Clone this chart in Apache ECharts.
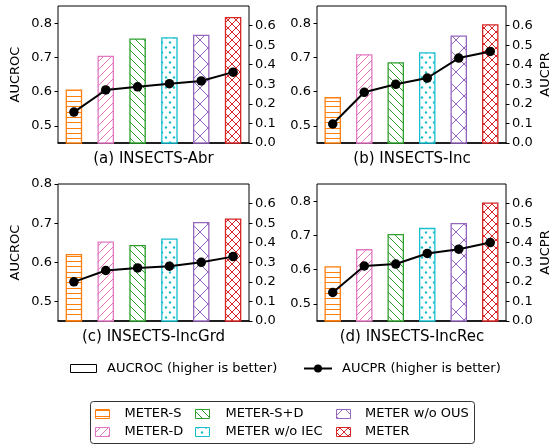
<!DOCTYPE html>
<html><head><meta charset="utf-8">
<script src="https://cdn.jsdelivr.net/npm/echarts@6/dist/echarts.min.js"></script>
<style>html,body{margin:0;padding:0;background:#fff}#c{width:553px;height:446px}</style>
</head><body><div id="c"></div>
<script>
// ---- data ----
const methods = ['METER-S', 'METER-D', 'METER-S+D', 'METER w/o IEC', 'METER w/o OUS', 'METER'];
const panelTitles = ['(a) INSECTS-Abr', '(b) INSECTS-Inc', '(c) INSECTS-IncGrd', '(d) INSECTS-IncRec'];
const aucrocAbr    = [0.606, 0.705, 0.755, 0.759, 0.766, 0.818];
const aucprAbr     = [0.158, 0.271, 0.287, 0.303, 0.317, 0.362];
const aucrocInc    = [0.584, 0.709, 0.686, 0.715, 0.764, 0.797];
const aucprInc     = [0.097, 0.259, 0.300, 0.332, 0.434, 0.468];
const aucrocIncGrd = [0.621, 0.653, 0.644, 0.661, 0.703, 0.712];
const aucprIncGrd  = [0.200, 0.258, 0.271, 0.280, 0.300, 0.329];
const aucrocIncRec = [0.610, 0.660, 0.704, 0.722, 0.736, 0.796];
const aucprIncRec  = [0.146, 0.281, 0.291, 0.345, 0.367, 0.401];
const leftTicks  = [0.5, 0.6, 0.7, 0.8];
const rightTicks = [0.0, 0.1, 0.2, 0.3, 0.4, 0.5, 0.6];
const legendMetrics = ['AUCROC (higher is better)', 'AUCPR (higher is better)'];

const aucroc = [aucrocAbr, aucrocInc, aucrocIncGrd, aucrocIncRec];
const aucpr  = [aucprAbr, aucprInc, aucprIncGrd, aucprIncRec];

// ---- styles ----
const colors = ['#ff7f0e', '#e377c2', '#2ca02c', '#17becf', '#9467bd', '#d62728'];
const hatchKinds = ['h', 'ne', 'se', 'dot', 'x', 'xx'];
const FONT = '"DejaVu Sans", sans-serif';

function makeHatch(kind, color) {
  const c = document.createElement('canvas');
  let w = 8, h = 8;
  if (kind === 'h') { w = 16; h = 16; }
  if (kind === 'x') { w = 16; h = 16; }
  if (kind === 'dot') { w = 8; h = 10; }
  c.width = w; c.height = h;
  const ctx = c.getContext('2d');
  ctx.fillStyle = '#fff'; ctx.fillRect(0, 0, w, h);
  ctx.strokeStyle = color; ctx.fillStyle = color; ctx.lineWidth = 1;
  const seg = (x1, y1, x2, y2) => { ctx.beginPath(); ctx.moveTo(x1, y1); ctx.lineTo(x2, y2); ctx.stroke(); };
  const ne = (p) => { seg(-1, p + 1, p + 1, -1); seg(-1, 1, 1, -1); seg(p - 1, p + 1, p + 1, p - 1); };
  const se = (p) => { seg(-1, -1, p + 1, p + 1); seg(p - 1, -1, p + 1, 1); seg(-1, p - 1, 1, p + 1); };
  if (kind === 'h') { seg(0, 0.5, w, 0.5); seg(0, 5.5, w, 5.5); seg(0, 10.5, w, 10.5); }
  else if (kind === 'ne') ne(8);
  else if (kind === 'se') se(8);
  else if (kind === 'x') { ne(16); se(16); }
  else if (kind === 'xx') { ne(8); se(8); }
  else if (kind === 'dot') {
    ctx.beginPath(); ctx.arc(2, 2.5, 1.2, 0, Math.PI * 2); ctx.fill();
    ctx.beginPath(); ctx.arc(6, 7.5, 1.2, 0, Math.PI * 2); ctx.fill();
  }
  return { image: c, repeat: 'repeat' };
}
const patterns = hatchKinds.map((k, i) => makeHatch(k, colors[i]));

const grids = [
  { left: 58, top: 6, width: 191, height: 137 },
  { left: 317, top: 6, width: 190, height: 137 },
  { left: 58, top: 184, width: 191, height: 137 },
  { left: 317, top: 184, width: 190, height: 137 }
];
const leftMax = [0.85, 0.85, 0.8, 0.85];

const option = {
  animation: false,
  backgroundColor: '#fff',
  grid: grids.map(g => Object.assign({ show: true, borderColor: '#000', borderWidth: 1, backgroundColor: 'transparent' }, g)),
  xAxis: grids.map((g, i) => ({
    type: 'category', gridIndex: i, data: methods, boundaryGap: true,
    axisLine: { show: true, lineStyle: { color: '#000', width: 1.5 } },
    axisTick: { show: false }, axisLabel: { show: false }, splitLine: { show: false }
  })),
  yAxis: [],
  series: [],
  graphic: []
};

grids.forEach((g, i) => {
  option.yAxis.push({
    type: 'value', gridIndex: i, position: 'left', min: 0.45, max: leftMax[i],
    axisLine: { show: false }, splitLine: { show: false },
    axisTick: { show: true, length: 3.5, inside: false, lineStyle: { color: '#000', width: 1 }, customValues: leftTicks },
    axisLabel: { customValues: leftTicks, formatter: v => v.toFixed(1), fontSize: 13, color: '#000', fontFamily: FONT, margin: 6 },
    name: (i % 2 === 0) ? 'AUCROC' : '', nameLocation: 'middle', nameRotate: 90, nameGap: 36,
    nameTextStyle: { fontSize: 13, color: '#000', fontFamily: FONT }
  });
  option.yAxis.push({
    type: 'value', gridIndex: i, position: 'right', min: 0, max: 0.7,
    axisLine: { show: false }, splitLine: { show: false },
    axisTick: { show: true, length: 3.5, inside: false, lineStyle: { color: '#000', width: 1 }, customValues: rightTicks },
    axisLabel: { customValues: rightTicks, formatter: v => v.toFixed(1), fontSize: 13, color: '#000', fontFamily: FONT, margin: 6 },
    name: (i % 2 === 1) ? 'AUCPR' : '', nameLocation: 'middle', nameRotate: 90, nameGap: 33,
    nameTextStyle: { fontSize: 13, color: '#000', fontFamily: FONT, verticalAlign: 'top' }
  });
  option.series.push({
    type: 'bar', name: 'AUCROC', xAxisIndex: i, yAxisIndex: 2 * i, barWidth: 16.5, clip: true, z: 2,
    data: aucroc[i].map((v, j) => ({ value: v, itemStyle: { color: patterns[j], borderColor: colors[j], borderWidth: 1.3 } }))
  });
  option.series.push({
    type: 'line', name: 'AUCPR', xAxisIndex: i, yAxisIndex: 2 * i + 1, data: aucpr[i], z: 3,
    symbol: 'circle', symbolSize: 9.5, showSymbol: true,
    lineStyle: { color: '#000', width: 2 }, itemStyle: { color: '#000', borderWidth: 0 }
  });
  const ty = i < 2 ? 159.5 : 337.5;
  option.graphic.push({
    type: 'text', x: g.left + g.width / 2, y: ty,
    style: { text: panelTitles[i], font: '15px ' + FONT, fill: '#000', align: 'center', verticalAlign: 'middle' }
  });
});

// top legend (metrics)
const tfont = '13px ' + FONT;
option.graphic.push(
  { type: 'rect', shape: { x: 70.5, y: 364.5, width: 26, height: 8 }, style: { fill: '#fff', stroke: '#000', lineWidth: 1 } },
  { type: 'text', x: 107, y: 368.5, style: { text: legendMetrics[0], font: tfont, fill: '#000', align: 'left', verticalAlign: 'middle' } },
  { type: 'line', shape: { x1: 304, y1: 368.5, x2: 332, y2: 368.5 }, style: { stroke: '#000', lineWidth: 2 } },
  { type: 'circle', shape: { cx: 318, cy: 368.5, r: 4 }, style: { fill: '#000' } },
  { type: 'text', x: 342, y: 368.5, style: { text: legendMetrics[1], font: tfont, fill: '#000', align: 'left', verticalAlign: 'middle' } }
);

// method legend
option.graphic.push({ type: 'rect', shape: { x: 90.5, y: 401.5, width: 384, height: 42, r: 3 }, style: { fill: '#fff', stroke: '#333', lineWidth: 1 } });
const colX = [95, 195, 336];
const txtX = [124.5, 225.5, 365];
const rowY = [409.5, 427.5];
methods.forEach((m, j) => {
  const col = Math.floor(j / 2), row = j % 2;
  option.graphic.push(
    { type: 'rect', shape: { x: colX[col] + 0.5, y: rowY[row], width: 14, height: 9 }, style: { fill: patterns[j], stroke: colors[j], lineWidth: 1 } },
    { type: 'text', x: txtX[col], y: rowY[row] + 4.5, style: { text: m, font: tfont, fill: '#000', align: 'left', verticalAlign: 'middle' } }
  );
});

const chart = echarts.init(document.getElementById('c'), null, { renderer: 'canvas' });
chart.setOption(option);
</script></body></html>
